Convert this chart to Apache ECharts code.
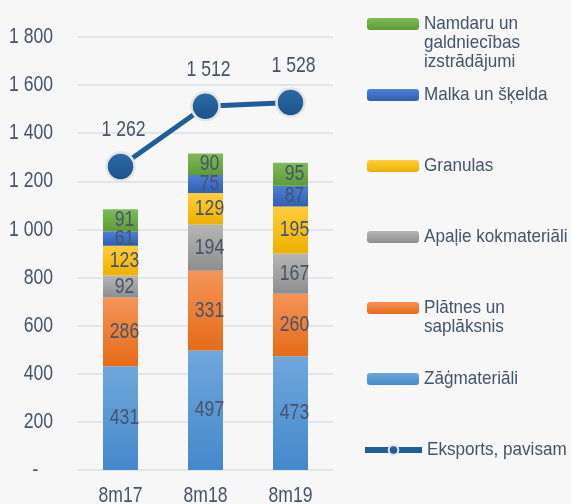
<!DOCTYPE html>
<html>
<head>
<meta charset="utf-8">
<script src="https://cdn.jsdelivr.net/npm/echarts@6/dist/echarts.min.js"></script>
<style>
html,body{margin:0;padding:0;background:#f7f7f7;}
#chart{width:571px;height:504px;}
</style>
</head>
<body>
<div id="chart"></div>
<script>
const categories = ['8m17', '8m18', '8m19'];
const zagmateriali = [431, 497, 473];
const platnes = [286, 331, 260];
const apalie = [92, 194, 167];
const granulas = [123, 129, 195];
const malka = [61, 75, 87];
const namdaru = [91, 90, 95];
const eksports = [1262, 1512, 1528];
const yMin = 0, yMax = 1800, yStep = 200;

const seriesNames = {
  zag: 'Zāģmateriāli',
  pla: 'Plātnes un saplāksnis',
  apa: 'Apaļie kokmateriāli',
  gra: 'Granulas',
  mal: 'Malka un šķelda',
  nam: 'Namdaru un galdniecības izstrādājumi',
  eks: 'Eksports, pavisam'
};
const legendLines = {
  zag: ['Zāģmateriāli'],
  pla: ['Plātnes un', 'saplāksnis'],
  apa: ['Apaļie kokmateriāli'],
  gra: ['Granulas'],
  mal: ['Malka un šķelda'],
  nam: ['Namdaru un', 'galdniecības', 'izstrādājumi'],
  eks: ['Eksports, pavisam']
};

const FONT = '"Liberation Sans", Arial, sans-serif';
const TXT = '#44546a';
const AX_FS = 22, LEG_FS = 19;

// The reference is set in a condensed typeface, which is not installed:
// draw the canvas text narrowed horizontally around its anchor point.
(function () {
  const proto = CanvasRenderingContext2D.prototype;
  const orig = proto.fillText;
  proto.fillText = function (t, x, y, maxW) {
    const m = /(\d+(?:\.\d+)?)px/.exec(this.font || '');
    const fs = m ? parseFloat(m[1]) : 0;
    const s = fs >= 21 ? 0.8 : (fs >= 18 ? 0.9 : 1);
    if (s === 1) return maxW === undefined ? orig.call(this, t, x, y) : orig.call(this, t, x, y, maxW);
    this.save();
    this.translate(x, y);
    this.scale(s, 1);
    if (maxW === undefined) orig.call(this, t, 0, 0); else orig.call(this, t, 0, 0, maxW / s);
    this.restore();
  };
})();

const fmt = v => String(v).replace(/\B(?=(\d{3})+(?!\d))/g, ' ');
const grad = (a, b) => new echarts.graphic.LinearGradient(0, 0, 0, 1, [{offset: 0, color: a}, {offset: 1, color: b}]);

const barDefs = [
  ['zag', zagmateriali, '#6fa7dc', '#4588cb'],
  ['pla', platnes, '#f59459', '#e56b18'],
  ['apa', apalie, '#b6b6b6', '#8e8e8e'],
  ['gra', granulas, '#ffcd3c', '#edb100'],
  ['mal', malka, '#4f80d6', '#2f5fb4'],
  ['nam', namdaru, '#80ba5a', '#5d9b35']
];

const series = barDefs.map(([k, d, c1, c2]) => ({
  name: seriesNames[k],
  type: 'bar',
  stack: 'total',
  barWidth: 35,
  data: d,
  itemStyle: {color: grad(c1, c2)},
  label: {
    show: true, position: 'inside', offset: [4, 0],
    fontFamily: FONT, fontSize: AX_FS, color: TXT
  }
}));
series.push({
  name: seriesNames.eks,
  type: 'line',
  data: eksports,
  symbol: 'circle',
  symbolSize: 28,
  lineStyle: {color: '#215d96', width: 5},
  itemStyle: {color: grad('#2d6ca6', '#1b5189'), borderColor: '#e4e4e4', borderWidth: 2.5},
  label: {
    show: true, position: 'top', distance: 10, offset: [3, 0],
    fontFamily: FONT, fontSize: AX_FS, color: TXT,
    formatter: p => fmt(p.value)
  },
  z: 5
});

const LH = 19;
const legendCenters = {nam: 24, mal: 95, gra: 166, apa: 237, pla: 308, zag: 379, eks: 450};
const legends = Object.keys(legendCenters).map(k => {
  const n = legendLines[k].length;
  const lines = new Array(n - 1).fill('').concat(legendLines[k]);
  const H = lines.length * LH;
  const isLine = k === 'eks';
  const lg = {
    data: [seriesNames[k]],
    orient: 'vertical',
    left: isLine ? 362 : 367,
    top: legendCenters[k] - H / 2,
    padding: 0,
    itemWidth: isLine ? 57 : 52,
    itemHeight: 12,
    itemGap: 5,
    selectedMode: false,
    formatter: () => lines.join('\n'),
    textStyle: {fontFamily: FONT, fontSize: LEG_FS, color: TXT, lineHeight: LH}
  };
  if (isLine) {
    lg.lineStyle = {width: 6, color: '#215d96'};
    lg.itemStyle = {borderWidth: 2, borderColor: '#e4e4e4'};
  }
  return lg;
});

const chart = echarts.init(document.getElementById('chart'), null, {renderer: 'canvas'});
chart.setOption({
  backgroundColor: '#f7f7f7',
  animation: false,
  grid: {left: 78, right: 238, top: 37, bottom: 34, containLabel: false, outerBoundsMode: 'none'},
  legend: legends,
  xAxis: {
    type: 'category',
    data: categories,
    axisLine: {show: false},
    axisTick: {show: false},
    axisLabel: {fontFamily: FONT, fontSize: AX_FS, color: TXT, margin: 15}
  },
  yAxis: {
    type: 'value',
    min: yMin, max: yMax, interval: yStep,
    axisLine: {show: false},
    axisTick: {show: false},
    splitLine: {lineStyle: {color: '#e0e5ec', width: 2}},
    axisLabel: {
      fontFamily: FONT, fontSize: AX_FS, color: TXT, margin: 25,
      formatter: v => v === 0 ? '-   ' : fmt(v)
    }
  },
  series: series
});
</script>
</body>
</html>
